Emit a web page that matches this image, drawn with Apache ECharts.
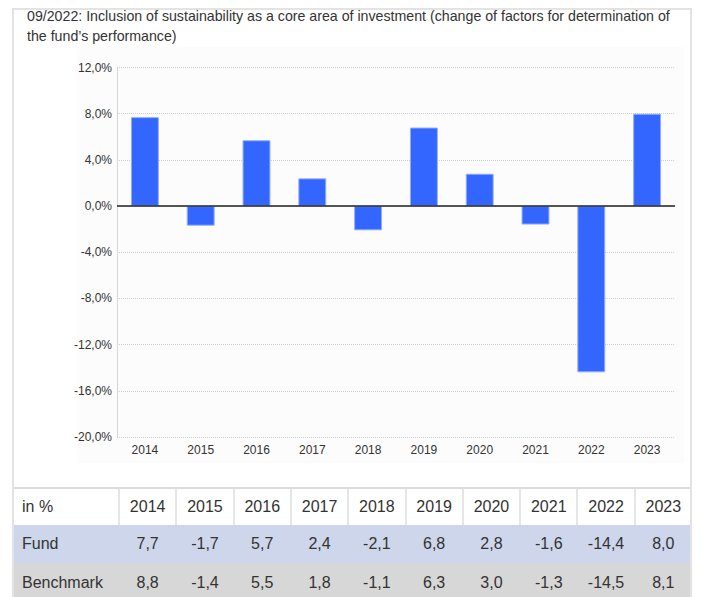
<!DOCTYPE html>
<html><head><meta charset="utf-8">
<script src="https://cdn.jsdelivr.net/npm/echarts@6/dist/echarts.min.js"></script>
<style>
html,body{margin:0;padding:0;background:#fff;width:701px;height:597px;overflow:hidden;font-family:"Liberation Sans",Arial,Helvetica,sans-serif;color:#333}
#chart{position:absolute;left:0;top:0;width:701px;height:597px}
#box{position:absolute;left:12px;top:8px;width:676px;height:620px;border:2px solid #e3e3e3;pointer-events:none;z-index:5}
#title{position:absolute;left:27px;top:6px;font-size:14.2px;line-height:20px;white-space:nowrap;color:#333;z-index:4}
#table{position:absolute;left:12px;top:487px;width:680px;height:120px;z-index:4}
.cell{position:absolute;font-size:16px;color:#333;white-space:nowrap;box-sizing:border-box}
</style></head>
<body>
<div id="chart"></div>
<div id="title">09/2022: Inclusion of sustainability as a core area of investment (change of factors for determination of<br>the fund’s performance)</div>
<div id="table"></div>
<div id="box"></div>
<script>
const years = ['2014','2015','2016','2017','2018','2019','2020','2021','2022','2023'];
const fund = [7.7,-1.7,5.7,2.4,-2.1,6.8,2.8,-1.6,-14.4,8.0];
const benchmark = [8.8,-1.4,5.5,1.8,-1.1,6.3,3.0,-1.3,-14.5,8.1];
const rowLabels = ['in %','Fund','Benchmark'];
const yMin = -20, yMax = 12, yStep = 4;

function fmt(v){ return v.toFixed(1).replace('.', ','); }

// table
(function(){
  const t = document.getElementById('table');
  const firstW = 107, colW = 57.3;
  const rows = [
    {top:2, h:36, bg:'#ffffff', vals: years, label: rowLabels[0]},
    {top:38, h:38, bg:'#cdd6ea', vals: fund.map(fmt), label: rowLabels[1]},
    {top:76, h:40, bg:'#d7d7d7', vals: benchmark.map(fmt), label: rowLabels[2]}
  ];
  const line = document.createElement('div');
  line.style.cssText = 'position:absolute;left:0;top:0;width:680px;height:2px;background:#dcdcdc';
  t.appendChild(line);
  rows.forEach((r, ri) => {
    const bg = document.createElement('div');
    bg.style.cssText = `position:absolute;left:0;top:${r.top}px;width:680px;height:${r.h}px;background:${r.bg}`;
    t.appendChild(bg);
    const lab = document.createElement('div');
    lab.className = 'cell';
    lab.style.cssText += `left:10px;top:${r.top}px;height:${r.h}px;line-height:${r.h}px;`;
    lab.textContent = r.label;
    t.appendChild(lab);
    r.vals.forEach((v, i) => {
      const c = document.createElement('div');
      c.className = 'cell';
      const x = firstW + i * colW;
      c.style.cssText += `left:${x}px;width:${colW}px;top:${r.top}px;height:${r.h}px;line-height:${r.h}px;text-align:center;`;
      c.textContent = v;
      t.appendChild(c);
      if (ri === 0) {
        const sep = document.createElement('div');
        sep.style.cssText = `position:absolute;left:${x - 1}px;top:${r.top}px;width:2px;height:${r.h}px;background:#e6e6e6`;
        t.appendChild(sep);
      }
    });
  });
})();

const chart = echarts.init(document.getElementById('chart'), null, {renderer:'svg'});
chart.setOption({
  animation:false,
  backgroundColor:'transparent',
  textStyle:{fontFamily:'"Liberation Sans", Arial, Helvetica, sans-serif'},
  graphic:[{type:'rect', z:-100, silent:true, shape:{x:77,y:47,width:607,height:416}, style:{fill:'#fcfcfc'}}],
  grid:{left:117, right:26, top:67.5, bottom:160, containLabel:false},
  xAxis:{
    type:'category', data:years,
    axisLine:{show:false}, axisTick:{show:false},
    axisLabel:{color:'#333', fontSize:12, margin:7},
    splitLine:{show:false}
  },
  yAxis:{
    type:'value', min:yMin, max:yMax, interval:yStep,
    axisLine:{show:true, lineStyle:{color:'#cfcfcf', type:'dotted', width:1}},
    axisTick:{show:false},
    splitLine:{show:true, lineStyle:{color:'#cfcfcf', type:'dotted', width:1}},
    axisLabel:{color:'#333', fontSize:12, margin:5, formatter:v => fmt(v) + '%'}
  },
  series:[{
    type:'bar', name:'Fund', data:fund, barWidth:'50%',
    itemStyle:{color:'#3366ff', borderColor:'#92acff', borderWidth:1},
    markLine:{
      silent:true, symbol:'none', label:{show:false},
      lineStyle:{color:'#222', width:1.5, type:'solid'},
      data:[{yAxis:0}]
    }
  }]
});
</script>
</body></html>
